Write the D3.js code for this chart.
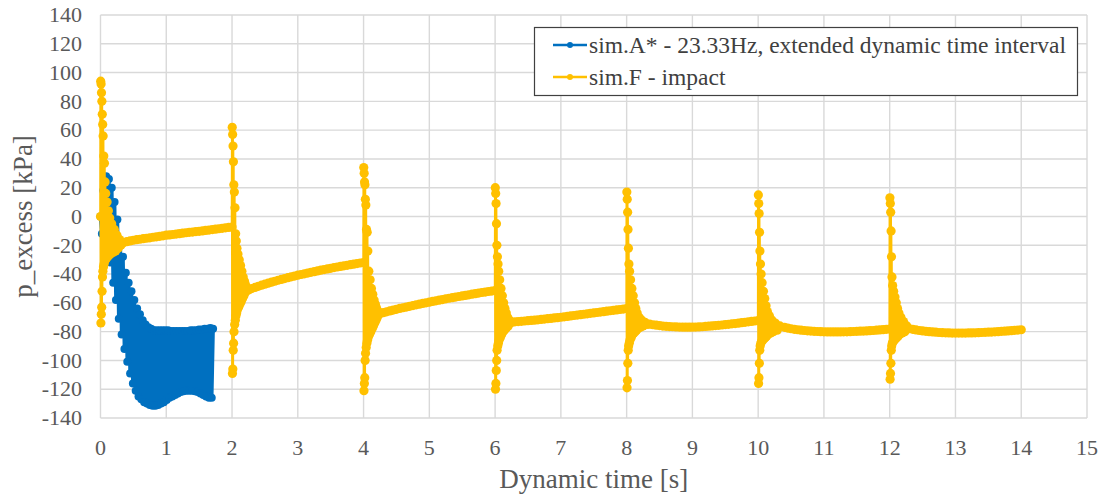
<!DOCTYPE html>
<html>
<head>
<meta charset="utf-8">
<script src="https://cdn.jsdelivr.net/npm/d3@7"></script>
<style>
  body { margin: 0; background: #fff; }
</style>
</head>
<body>
<div id="chart"></div>
<script>
// axis ticks
const xTicks = d3.range(0, 16, 1)
const yTicks = d3.range(-140, 141, 20)

// sim.A* - 23.33Hz, extended dynamic time interval  [t (s), p (kPa)]
const simA = [
  [0.000, 0], [0.021, -12], [0.043, 18], [0.064, -8], [0.086, 28], [0.107, -18], [0.128, 26],
  [0.150, -32], [0.171, 20], [0.193, -46], [0.214, 10], [0.235, -58], [0.257, -2], [0.278, -71],
  [0.300, -17], [0.321, -82], [0.342, -28], [0.364, -92], [0.385, -39], [0.407, -101], [0.428, -46],
  [0.450, -109], [0.471, -52], [0.492, -116], [0.514, -58], [0.535, -121], [0.557, -64], [0.578, -125],
  [0.600, -68], [0.621, -127], [0.642, -72], [0.664, -129], [0.685, -75], [0.707, -130], [0.728, -77],
  [0.749, -131], [0.771, -78], [0.792, -131.5], [0.814, -79], [0.835, -131.5], [0.856, -79], [0.878, -131],
  [0.899, -79], [0.921, -130], [0.942, -79], [0.963, -129], [0.985, -79], [1.006, -127.5], [1.028, -79],
  [1.049, -126], [1.070, -79.5], [1.092, -125], [1.113, -79.5], [1.135, -124], [1.156, -79.5], [1.177, -123],
  [1.199, -79.5], [1.220, -122], [1.242, -79.5], [1.263, -121.5], [1.284, -79.5], [1.306, -121], [1.327, -79.5],
  [1.349, -121], [1.370, -79], [1.391, -121], [1.413, -79], [1.434, -121.5], [1.456, -79], [1.477, -122],
  [1.498, -78.5], [1.520, -123], [1.541, -78.5], [1.563, -124], [1.584, -78], [1.605, -125], [1.627, -78],
  [1.648, -126], [1.670, -77.5], [1.691, -126], [1.712, -78]
]

// sim.F - impact, one block per impact and one per recovery
const simF_impact0 = [[0, 0], [0.003, 94], [0.006, -74], [0.009, 92], [0.012, -68], [0.015, 86], [0.018, -63],
  [0.021, 80], [0.024, -52], [0.027, 71], [0.03, -42], [0.033, 64], [0.036, -38], [0.04, 56], [0.045, -35],
  [0.05, 42], [0.055, -33], [0.06, 37], [0.065, -31], [0.07, 24], [0.075, -30], [0.08, 16], [0.09, -29],
  [0.1, 10], [0.11, -28], [0.12, 4], [0.13, -27], [0.14, -1], [0.15, -26], [0.17, -5], [0.19, -25],
  [0.21, -9], [0.23, -24], [0.25, -13], [0.27, -22], [0.29, -16], [0.31, -20], [0.33, -18.5]]
const simF_decay0 = [[0.35, -18.0], [0.40, -17.5], [0.45, -17.0], [0.50, -16.5], [0.55, -16.1], [0.60, -15.8],
  [0.65, -15.4], [0.70, -15.1], [0.75, -14.8], [0.80, -14.4], [0.85, -14.1], [0.90, -13.8], [0.95, -13.4],
  [1.00, -13.0], [1.05, -12.8], [1.10, -12.5], [1.15, -12.2], [1.20, -11.9], [1.25, -11.6], [1.30, -11.3],
  [1.35, -11.0], [1.40, -10.8], [1.45, -10.5], [1.50, -10.3], [1.55, -10.0], [1.60, -9.7], [1.65, -9.4],
  [1.70, -9.1], [1.75, -8.8], [1.80, -8.5], [1.85, -8.2], [1.90, -7.9], [1.95, -7.6], [2.00, -7.3]]

const simF_impact2 = [[2.003, 62], [2.006, -109], [2.009, 57], [2.012, -106], [2.015, 49], [2.018, -93],
  [2.021, 38], [2.024, -88], [2.027, 22], [2.03, -80], [2.035, 17], [2.04, -75], [2.045, 6], [2.05, -72],
  [2.055, -12], [2.06, -69], [2.065, -17], [2.07, -67], [2.075, -22], [2.08, -65], [2.09, -26], [2.1, -63],
  [2.11, -30], [2.12, -61], [2.13, -34], [2.14, -59], [2.15, -38], [2.16, -57], [2.17, -42], [2.18, -55],
  [2.19, -45], [2.2, -53], [2.21, -48], [2.22, -51.5]]
const simF_decay2 = [[2.25, -51.0], [2.30, -50.1], [2.35, -49.3], [2.40, -48.5], [2.45, -47.7], [2.50, -47.0],
  [2.55, -46.3], [2.60, -45.6], [2.65, -45.0], [2.70, -44.3], [2.75, -43.7], [2.80, -43.1], [2.85, -42.5],
  [2.90, -41.9], [2.95, -41.4], [3.00, -40.8], [3.05, -40.3], [3.10, -39.8], [3.15, -39.3], [3.20, -38.8],
  [3.25, -38.3], [3.30, -37.8], [3.35, -37.3], [3.40, -36.9], [3.45, -36.4], [3.50, -36.0], [3.55, -35.5],
  [3.60, -35.1], [3.65, -34.7], [3.70, -34.3], [3.75, -33.9], [3.80, -33.5], [3.85, -33.1], [3.90, -32.7],
  [3.95, -32.3], [4.00, -32.0]]

const simF_impact4 = [[4.003, 34], [4.006, -121], [4.009, 30], [4.012, -116], [4.015, 24], [4.018, -112],
  [4.021, 22], [4.024, -100], [4.027, 12], [4.03, -95], [4.035, 8], [4.04, -91], [4.045, -9], [4.05, -88],
  [4.055, -11], [4.06, -86], [4.065, -24], [4.07, -84], [4.08, -38], [4.09, -82], [4.1, -44], [4.11, -80],
  [4.12, -50], [4.13, -78], [4.14, -54], [4.15, -76], [4.16, -58], [4.17, -74], [4.18, -61], [4.19, -72],
  [4.2, -64], [4.21, -70], [4.22, -66], [4.25, -67.5]]
const simF_decay4 = [[4.30, -66.8], [4.35, -66.2], [4.40, -65.6], [4.45, -65.0], [4.50, -64.5], [4.55, -63.9],
  [4.60, -63.4], [4.65, -62.9], [4.70, -62.4], [4.75, -61.9], [4.80, -61.4], [4.85, -60.9], [4.90, -60.4],
  [4.95, -60.0], [5.00, -59.5], [5.05, -59.0], [5.10, -58.6], [5.15, -58.1], [5.20, -57.7], [5.25, -57.2],
  [5.30, -56.8], [5.35, -56.4], [5.40, -56.0], [5.45, -55.6], [5.50, -55.2], [5.55, -54.8], [5.60, -54.4],
  [5.65, -54.0], [5.70, -53.6], [5.75, -53.2], [5.80, -52.8], [5.85, -52.5], [5.90, -52.1], [5.95, -51.8],
  [6.00, -51.4]]

const simF_impact6 = [[6.003, 20], [6.006, -120], [6.009, 16], [6.012, -116], [6.015, 9], [6.018, -107],
  [6.021, -5], [6.024, -100], [6.027, -20], [6.03, -93], [6.035, -28], [6.04, -90], [6.045, -33], [6.05, -88],
  [6.055, -38], [6.06, -86], [6.07, -44], [6.08, -84], [6.09, -50], [6.1, -82], [6.11, -55], [6.12, -80],
  [6.13, -60], [6.14, -79], [6.15, -64], [6.16, -78], [6.17, -67], [6.18, -77], [6.19, -70], [6.2, -76],
  [6.22, -72], [6.25, -73.7]]
const simF_decay6 = [[6.30, -73.2], [6.35, -73.0], [6.40, -72.8], [6.45, -72.6], [6.50, -72.4], [6.55, -72.2],
  [6.60, -72.0], [6.65, -71.8], [6.70, -71.5], [6.75, -71.3], [6.80, -71.0], [6.85, -70.8], [6.90, -70.5],
  [6.95, -70.3], [7.00, -70.0], [7.05, -69.7], [7.10, -69.4], [7.15, -69.1], [7.20, -68.8], [7.25, -68.5],
  [7.30, -68.2], [7.35, -67.9], [7.40, -67.6], [7.45, -67.3], [7.50, -67.0], [7.55, -66.7], [7.60, -66.4],
  [7.65, -66.1], [7.70, -65.8], [7.75, -65.5], [7.80, -65.2], [7.85, -64.9], [7.90, -64.6], [7.95, -64.3],
  [8.00, -64.0]]

const simF_impact8 = [[8.003, 17], [8.006, -119], [8.009, 12], [8.012, -114], [8.015, 3], [8.018, -102],
  [8.021, -9], [8.024, -93], [8.027, -22], [8.03, -90], [8.035, -33], [8.04, -88], [8.045, -38], [8.05, -86],
  [8.06, -44], [8.07, -84], [8.08, -50], [8.09, -82], [8.1, -55], [8.11, -81], [8.12, -60], [8.13, -80],
  [8.14, -64], [8.15, -79], [8.16, -67], [8.17, -78], [8.19, -70], [8.21, -77], [8.23, -72], [8.25, -76],
  [8.28, -73.5], [8.31, -75], [8.35, -74.8]]
const simF_decay8 = [[8.40, -75.2], [8.45, -75.5], [8.50, -75.8], [8.55, -76.1], [8.60, -76.3], [8.65, -76.5],
  [8.70, -76.6], [8.75, -76.7], [8.80, -76.8], [8.85, -76.9], [8.90, -76.9], [8.95, -76.9], [9.00, -76.9],
  [9.05, -76.8], [9.10, -76.7], [9.15, -76.6], [9.20, -76.4], [9.25, -76.2], [9.30, -76.0], [9.35, -75.8],
  [9.40, -75.6], [9.45, -75.4], [9.50, -75.1], [9.55, -74.9], [9.60, -74.6], [9.65, -74.4], [9.70, -74.1],
  [9.75, -73.8], [9.80, -73.5], [9.85, -73.2], [9.90, -72.9], [9.95, -72.6], [10.00, -72.3]]

const simF_impact10 = [[10.003, 15], [10.006, -116], [10.009, 9], [10.012, -112], [10.015, 2], [10.018, -102],
  [10.021, -11], [10.024, -93], [10.027, -24], [10.03, -90], [10.035, -33], [10.04, -88], [10.045, -40],
  [10.05, -87], [10.06, -46], [10.07, -86], [10.08, -52], [10.09, -85], [10.1, -57], [10.11, -84],
  [10.12, -62], [10.13, -83], [10.14, -66], [10.15, -82], [10.17, -69], [10.19, -81], [10.21, -72],
  [10.23, -80], [10.26, -74], [10.29, -79], [10.33, -76]]
const simF_decay10 = [[10.40, -77.0], [10.45, -77.5], [10.50, -78.0], [10.55, -78.4], [10.60, -78.7],
  [10.65, -79.0], [10.70, -79.2], [10.75, -79.4], [10.80, -79.6], [10.85, -79.8], [10.90, -79.9],
  [10.95, -80.0], [11.00, -80.1], [11.05, -80.2], [11.10, -80.2], [11.15, -80.2], [11.20, -80.2],
  [11.25, -80.2], [11.30, -80.1], [11.35, -80.1], [11.40, -80.0], [11.45, -79.9], [11.50, -79.8],
  [11.55, -79.7], [11.60, -79.6], [11.65, -79.5], [11.70, -79.3], [11.75, -79.2], [11.80, -79.0],
  [11.85, -78.8], [11.90, -78.6], [11.95, -78.4], [12.00, -78.2]]

const simF_impact12 = [[12.003, 13], [12.006, -113], [12.009, 9], [12.012, -109], [12.015, 3], [12.018, -102],
  [12.021, -10], [12.024, -93], [12.027, -28], [12.03, -90], [12.035, -42], [12.04, -88], [12.045, -48],
  [12.05, -87], [12.06, -52], [12.07, -86], [12.08, -56], [12.09, -85], [12.1, -60], [12.11, -84],
  [12.12, -64], [12.13, -83], [12.14, -67], [12.15, -82], [12.17, -70], [12.19, -81], [12.21, -73],
  [12.23, -80], [12.26, -76], [12.3, -78]]
const simF_decay12 = [[12.35, -78.4], [12.40, -78.8], [12.45, -79.2], [12.50, -79.5], [12.55, -79.8],
  [12.60, -80.0], [12.65, -80.2], [12.70, -80.4], [12.75, -80.6], [12.80, -80.7], [12.85, -80.8],
  [12.90, -80.9], [12.95, -81.0], [13.00, -81.0], [13.05, -81.0], [13.10, -81.0], [13.15, -81.0],
  [13.20, -80.9], [13.25, -80.9], [13.30, -80.8], [13.35, -80.7], [13.40, -80.6], [13.45, -80.5],
  [13.50, -80.4], [13.55, -80.3], [13.60, -80.1], [13.65, -80.0], [13.70, -79.8], [13.75, -79.7],
  [13.80, -79.5], [13.85, -79.3], [13.90, -79.1], [13.95, -78.9], [14.00, -78.7]]

const simF = [].concat(
  simF_impact0, simF_decay0, simF_impact2, simF_decay2, simF_impact4, simF_decay4,
  simF_impact6, simF_decay6, simF_impact8, simF_decay8, simF_impact10, simF_decay10,
  simF_impact12, simF_decay12)

const seriesNames = ['sim.A* - 23.33Hz, extended dynamic time interval', 'sim.F - impact']
const seriesColours = ['#0070C0', '#FFC000']

// setup dimensions of the graph
const width = 1102, height = 498
const plot = { left: 100.5, right: 1087, top: 15, bottom: 418 }
const serif = '"Liberation Serif", Tinos, "Times New Roman", "DejaVu Serif", serif'

const svg = d3.select('#chart')
  .append('svg')
  .attr('width', width)
  .attr('height', height)
  .attr('font-family', serif)

const x = d3.scaleLinear().domain([0, 15]).range([plot.left, plot.right])
const y = d3.scaleLinear().domain([-140, 140]).range([plot.bottom, plot.top])

// gridlines
let grid = svg.append('g')
grid.selectAll('.gy')
  .data(yTicks)
  .join('line')
  .attr('class', 'gy')
  .attr('x1', plot.left).attr('x2', plot.right)
  .attr('y1', d => y(d)).attr('y2', d => y(d))
  .attr('stroke', '#d9d9d9').attr('stroke-width', 1.4)
grid.selectAll('.gx')
  .data(xTicks)
  .join('line')
  .attr('class', 'gx')
  .attr('y1', plot.top).attr('y2', plot.bottom)
  .attr('x1', d => x(d)).attr('x2', d => x(d))
  .attr('stroke', '#d9d9d9').attr('stroke-width', 1.4)

// tick labels
svg.append('g').selectAll('text')
  .data(yTicks)
  .join('text')
  .attr('x', 82)
  .attr('y', d => y(d))
  .attr('dy', '0.33em')
  .attr('text-anchor', 'end')
  .attr('fill', '#595959')
  .style('font-size', '22px')
  .text(d => d)

svg.append('g').selectAll('text')
  .data(xTicks)
  .join('text')
  .attr('x', d => x(d))
  .attr('y', 455)
  .attr('text-anchor', 'middle')
  .attr('fill', '#595959')
  .style('font-size', '22px')
  .text(d => d)

// axis titles
svg.append('text')
  .attr('x', (plot.left + plot.right) / 2)
  .attr('y', 488)
  .attr('text-anchor', 'middle')
  .attr('fill', '#595959')
  .style('font-size', '27px')
  .text('Dynamic time [s]')

svg.append('text')
  .attr('transform', `translate(32,${(plot.top + plot.bottom) / 2}) rotate(-90)`)
  .attr('text-anchor', 'middle')
  .attr('fill', '#595959')
  .style('font-size', '27px')
  .text('p_excess [kPa]')

// series
const line = d3.line()
  .x(d => x(d[0]))
  .y(d => y(d[1]))

function drawSeries(data, colour, r, w) {
  let g = svg.append('g')
  g.append('path')
    .datum(data)
    .attr('d', line)
    .attr('fill', 'none')
    .attr('stroke', colour)
    .attr('stroke-width', w)
    .attr('stroke-linejoin', 'round')
  g.selectAll('circle')
    .data(data)
    .join('circle')
    .attr('cx', d => x(d[0]))
    .attr('cy', d => y(d[1]))
    .attr('r', r)
    .attr('fill', colour)
}

// dense oscillation: slightly wider stroke so the band closes up
drawSeries(simA, seriesColours[0], 4, 3.6)
drawSeries(simF, seriesColours[1], 4.6, 2.6)

// legend
let legend = svg.append('g')
legend.append('rect')
  .attr('x', 534.5).attr('y', 27.5)
  .attr('width', 543).attr('height', 68)
  .attr('fill', '#fff')
  .attr('stroke', '#404040')
  .attr('stroke-width', 1.2)

seriesNames.forEach((name, i) => {
  let ly = 45 + i * 32
  legend.append('line')
    .attr('x1', 553).attr('x2', 587)
    .attr('y1', ly).attr('y2', ly)
    .attr('stroke', seriesColours[i])
    .attr('stroke-width', 2.6)
  legend.append('circle')
    .attr('cx', 570).attr('cy', ly)
    .attr('r', 3)
    .attr('fill', seriesColours[i])
  legend.append('text')
    .attr('x', 589)
    .attr('y', ly)
    .attr('dy', '0.33em')
    .attr('fill', '#404040')
    .style('font-size', '23.5px')
    .text(name)
})
</script>
</body>
</html>
